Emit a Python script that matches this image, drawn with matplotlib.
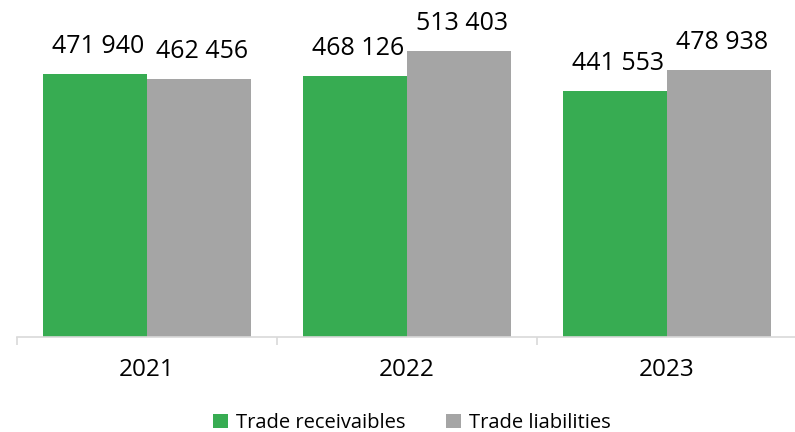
import numpy as np
import matplotlib.pyplot as plt

plt.rcParams['font.family'] = ['Open Sans', 'DejaVu Sans']

# Trade balances by year
YEARS = ["2021", "2022", "2023"]
RECEIVABLES = [471940, 468126, 441553]
LIABILITIES = [462456, 513403, 478938]

GREEN = "#37AC52"
GREY = "#A5A5A5"


def fmt(v):
    return f"{v:,}".replace(",", " ")


fig = plt.figure(figsize=(7.95, 4.32), dpi=100)
ax = fig.add_axes([17 / 795, 95 / 432, 780 / 795, 337 / 432])

x = np.arange(len(YEARS))
w = 0.4
b1 = ax.bar(x - w / 2, RECEIVABLES, w, color=GREEN, label="Trade receivaibles")
b2 = ax.bar(x + w / 2, LIABILITIES, w, color=GREY, label="Trade liabilities")

for bars, vals in ((b1, RECEIVABLES), (b2, LIABILITIES)):
    for bar, v in zip(bars, vals):
        ax.annotate(fmt(v), (bar.get_x() + bar.get_width() / 2, v),
                    xytext=(2, 11), textcoords="offset points",
                    ha="center", va="bottom", fontsize=18, color="black")

ax.set_xlim(-0.5, len(YEARS) - 0.5)
ax.set_ylim(0, 605000)

for s in ("top", "right", "left"):
    ax.spines[s].set_visible(False)
ax.spines["bottom"].set_color("#D9D9D9")
ax.spines["bottom"].set_linewidth(1.2)

ax.set_yticks([])
ax.set_xticks(x)
ax.set_xticklabels(YEARS, fontsize=17.5)
ax.tick_params(axis="x", which="major", length=0, pad=15)
ax.set_xticks(np.arange(len(YEARS) + 1) - 0.5, minor=True)
ax.tick_params(axis="x", which="minor", length=6, width=1.2, color="#D9D9D9")

fig.legend(handles=[b1, b2], loc="center", bbox_to_anchor=(412 / 795, 9 / 432),
           ncol=2, frameon=False, fontsize=14.5, handlelength=0.75,
           handleheight=0.75, handletextpad=0.4, columnspacing=2.0)

fig.savefig("out.png", dpi=100)
